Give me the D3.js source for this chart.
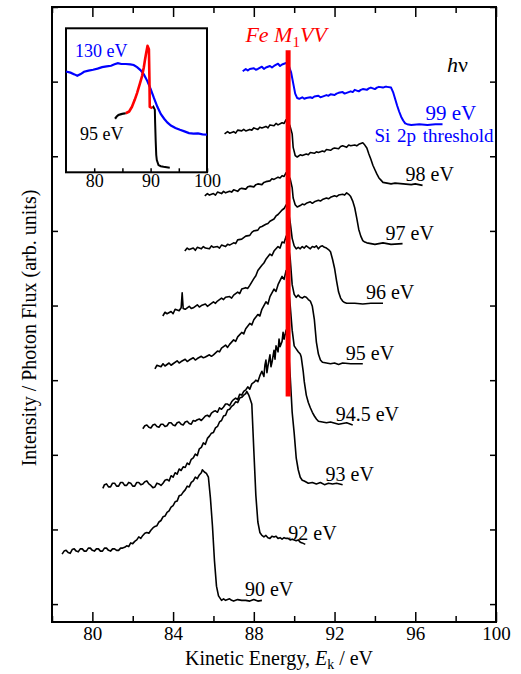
<!DOCTYPE html>
<html>
<head>
<meta charset="utf-8">
<script src="https://cdn.jsdelivr.net/npm/d3@7"></script>
<style>
  body { margin: 0; background: #fff; }
  text { font-family: "Liberation Serif", "Times New Roman", serif; }
</style>
</head>
<body>
<script>
// kinetic energy (eV), intensity (arb. units, one tick = 1)
const curve99 = [[87.45,7.14],[87.6,7.17],[87.7,7.15],[87.8,7.17],[88.0,7.18],[88.1,7.16],[88.2,7.17],[88.4,7.20],[88.5,7.17],[88.6,7.19],[88.8,7.21],[88.9,7.19],[89.0,7.21],[89.2,7.24],[89.3,7.21],[89.4,7.23],[89.6,7.25],[89.75,7.20],[89.85,7.12],[89.95,6.98],[90.05,6.84],[90.15,6.78],[90.25,6.77],[90.4,6.79],[90.5,6.77],[90.6,6.78],[90.8,6.79],[90.9,6.78],[91.0,6.80],[91.2,6.81],[91.3,6.79],[91.4,6.80],[91.6,6.82],[91.7,6.81],[91.8,6.83],[92.0,6.82],[92.1,6.84],[92.2,6.85],[92.4,6.86],[92.5,6.84],[92.6,6.85],[92.8,6.87],[92.9,6.86],[93.0,6.89],[93.2,6.87],[93.3,6.89],[93.4,6.90],[93.6,6.89],[93.7,6.91],[93.8,6.92],[94.0,6.90],[94.1,6.92],[94.2,6.93],[94.4,6.92],[94.5,6.93],[94.6,6.93],[94.8,6.92],[94.9,6.86],[95.0,6.77],[95.1,6.68],[95.2,6.60],[95.3,6.53],[95.4,6.48],[95.5,6.44],[95.6,6.43],[95.8,6.42],[96.2,6.43],[96.6,6.42],[97.0,6.43],[97.35,6.43]];
const curve98 = [[86.55,6.30],[86.7,6.33],[86.8,6.31],[87.0,6.33],[87.1,6.31],[87.2,6.35],[87.4,6.34],[87.5,6.36],[87.6,6.34],[87.8,6.36],[87.9,6.35],[88.0,6.38],[88.2,6.36],[88.3,6.39],[88.4,6.38],[88.6,6.40],[88.7,6.38],[88.8,6.42],[89.0,6.41],[89.1,6.44],[89.2,6.42],[89.4,6.45],[89.5,6.44],[89.6,6.49],[89.7,6.46],[89.8,6.40],[89.9,6.30],[89.95,6.12],[90.05,6.01],[90.15,5.99],[90.3,6.02],[90.4,6.01],[90.6,6.03],[90.7,6.02],[90.8,6.05],[91.0,6.04],[91.1,6.06],[91.2,6.05],[91.4,6.07],[91.5,6.06],[91.6,6.09],[91.8,6.08],[91.9,6.10],[92.0,6.11],[92.2,6.10],[92.3,6.13],[92.4,6.14],[92.6,6.12],[92.7,6.15],[92.8,6.14],[93.0,6.15],[93.1,6.14],[93.2,6.16],[93.4,6.18],[93.5,6.15],[93.6,6.11],[93.7,6.03],[93.8,5.96],[93.9,5.88],[94.0,5.82],[94.1,5.76],[94.2,5.71],[94.3,5.68],[94.4,5.65],[94.6,5.64],[94.8,5.63],[95.0,5.64],[95.4,5.63],[95.8,5.62],[96.0,5.63],[96.36,5.61]];
const curve97 = [[85.57,5.47],[85.7,5.50],[85.8,5.48],[86.0,5.50],[86.1,5.48],[86.2,5.52],[86.4,5.50],[86.5,5.53],[86.6,5.51],[86.8,5.53],[86.9,5.52],[87.0,5.55],[87.2,5.53],[87.3,5.56],[87.4,5.57],[87.6,5.56],[87.7,5.59],[87.8,5.60],[88.0,5.59],[88.1,5.62],[88.2,5.63],[88.4,5.62],[88.5,5.65],[88.6,5.66],[88.8,5.67],[88.9,5.70],[89.0,5.69],[89.2,5.72],[89.3,5.71],[89.4,5.74],[89.5,5.73],[89.6,5.78],[89.7,5.74],[89.8,5.70],[89.9,5.58],[89.95,5.44],[90.05,5.35],[90.15,5.32],[90.3,5.34],[90.4,5.36],[90.5,5.35],[90.6,5.37],[90.8,5.39],[90.9,5.37],[91.0,5.39],[91.2,5.41],[91.3,5.40],[91.4,5.42],[91.6,5.44],[91.7,5.43],[91.8,5.45],[92.0,5.47],[92.1,5.46],[92.2,5.48],[92.4,5.49],[92.5,5.48],[92.6,5.51],[92.7,5.49],[92.8,5.46],[92.9,5.40],[93.0,5.31],[93.1,5.17],[93.2,5.02],[93.3,4.93],[93.4,4.87],[93.5,4.85],[93.6,4.84],[94.0,4.82],[94.4,4.84],[94.8,4.82],[95.37,4.83]];
const curve96 = [[84.58,4.73],[84.7,4.77],[84.8,4.75],[85.0,4.77],[85.1,4.74],[85.2,4.78],[85.4,4.76],[85.5,4.79],[85.6,4.77],[85.8,4.76],[85.9,4.80],[86.0,4.78],[86.2,4.79],[86.3,4.77],[86.4,4.81],[86.6,4.79],[86.7,4.82],[86.8,4.81],[87.0,4.84],[87.1,4.83],[87.2,4.88],[87.4,4.89],[87.5,4.91],[87.6,4.93],[87.8,4.94],[87.9,4.98],[88.0,5.00],[88.2,5.01],[88.3,5.05],[88.4,5.06],[88.6,5.09],[88.7,5.10],[88.8,5.13],[89.0,5.16],[89.1,5.20],[89.2,5.22],[89.4,5.28],[89.5,5.30],[89.6,5.35],[89.7,5.28],[89.8,5.12],[89.9,4.90],[90.0,4.80],[90.1,4.76],[90.2,4.78],[90.3,4.76],[90.4,4.79],[90.5,4.77],[90.6,4.80],[90.7,4.78],[90.8,4.76],[90.9,4.79],[91.0,4.78],[91.1,4.80],[91.2,4.76],[91.3,4.79],[91.4,4.80],[91.5,4.78],[91.6,4.77],[91.7,4.75],[91.8,4.72],[91.9,4.62],[92.0,4.50],[92.1,4.33],[92.2,4.18],[92.3,4.10],[92.4,4.06],[92.5,4.04],[92.6,4.03],[93.0,4.03],[93.4,4.02],[93.8,4.03],[94.4,4.03]];
const curve95 = [[83.49,3.86],[83.6,3.91],[83.7,3.89],[83.9,3.92],[84.0,3.89],[84.1,3.95],[84.3,3.93],[84.4,3.97],[84.45,4.17],[84.5,3.96],[84.6,3.95],[84.8,3.99],[84.9,3.96],[85.0,3.97],[85.2,4.01],[85.3,3.98],[85.4,4.00],[85.6,4.02],[85.7,3.99],[85.8,4.01],[86.0,4.05],[86.1,4.03],[86.2,4.06],[86.4,4.10],[86.5,4.08],[86.6,4.11],[86.8,4.12],[86.9,4.10],[87.0,4.14],[87.2,4.18],[87.3,4.16],[87.4,4.22],[87.6,4.24],[87.7,4.23],[87.8,4.27],[88.0,4.36],[88.1,4.40],[88.2,4.47],[88.4,4.54],[88.5,4.57],[88.6,4.62],[88.8,4.69],[88.9,4.67],[89.0,4.73],[89.2,4.79],[89.3,4.77],[89.4,4.85],[89.5,4.84],[89.6,4.93],[89.7,4.81],[89.8,4.64],[89.9,4.28],[90.0,4.15],[90.1,4.11],[90.2,4.14],[90.3,4.11],[90.4,4.10],[90.5,4.12],[90.6,4.11],[90.7,4.08],[90.8,4.06],[90.9,3.99],[91.0,3.81],[91.1,3.51],[91.2,3.35],[91.3,3.27],[91.4,3.24],[91.6,3.23],[91.8,3.22],[92.0,3.23],[92.2,3.21],[92.4,3.23],[92.8,3.22],[93.4,3.22]];
const curve945 = [[83.1,3.15],[83.2,3.20],[83.4,3.18],[83.5,3.22],[83.6,3.19],[83.8,3.23],[83.9,3.20],[84.0,3.22],[84.2,3.26],[84.3,3.23],[84.4,3.25],[84.6,3.28],[84.7,3.25],[84.8,3.27],[85.0,3.30],[85.1,3.27],[85.2,3.29],[85.4,3.32],[85.5,3.30],[85.6,3.31],[85.8,3.34],[85.9,3.32],[86.0,3.34],[86.2,3.39],[86.3,3.38],[86.4,3.43],[86.6,3.47],[86.7,3.44],[86.8,3.48],[87.0,3.54],[87.1,3.52],[87.2,3.58],[87.4,3.64],[87.5,3.62],[87.6,3.69],[87.8,3.76],[87.9,3.74],[88.0,3.81],[88.2,3.88],[88.3,3.86],[88.4,3.95],[88.6,4.05],[88.7,4.02],[88.8,4.12],[89.0,4.22],[89.1,4.19],[89.2,4.28],[89.4,4.39],[89.5,4.35],[89.6,4.47],[89.7,4.28],[89.8,4.01],[89.9,3.67],[90.0,3.46],[90.1,3.42],[90.2,3.38],[90.3,3.35],[90.35,3.31],[90.45,3.11],[90.5,2.98],[90.6,2.80],[90.7,2.70],[90.8,2.63],[90.9,2.57],[91.0,2.52],[91.1,2.48],[91.2,2.45],[91.4,2.44],[91.6,2.43],[91.8,2.44],[92.2,2.41],[92.6,2.43],[92.9,2.40]];
const curve93 = [[82.5,2.35],[82.6,2.39],[82.7,2.40],[82.8,2.37],[82.9,2.36],[83.0,2.40],[83.1,2.41],[83.2,2.38],[83.3,2.37],[83.4,2.41],[83.5,2.41],[83.6,2.38],[83.7,2.39],[83.8,2.43],[83.9,2.43],[84.0,2.40],[84.1,2.39],[84.2,2.43],[84.3,2.44],[84.4,2.41],[84.5,2.40],[84.6,2.44],[84.7,2.45],[84.8,2.42],[84.9,2.41],[85.0,2.46],[85.1,2.45],[85.2,2.47],[85.3,2.48],[85.4,2.46],[85.5,2.49],[85.6,2.52],[85.7,2.53],[85.8,2.51],[85.9,2.56],[86.0,2.58],[86.1,2.59],[86.2,2.57],[86.3,2.63],[86.4,2.61],[86.5,2.64],[86.6,2.68],[86.7,2.68],[86.8,2.66],[86.9,2.71],[87.0,2.74],[87.1,2.76],[87.2,2.74],[87.3,2.81],[87.4,2.80],[87.5,2.85],[87.6,2.87],[87.7,2.91],[87.8,2.88],[87.9,2.95],[88.0,2.97],[88.1,3.00],[88.2,2.98],[88.3,3.06],[88.4,3.12],[88.5,3.05],[88.55,3.20],[88.6,3.27],[88.65,3.10],[88.7,3.19],[88.8,3.34],[88.85,3.18],[88.9,3.24],[89.0,3.40],[89.05,3.28],[89.1,3.46],[89.2,3.38],[89.25,3.55],[89.3,3.45],[89.4,3.52],[89.45,3.64],[89.5,3.55],[89.6,3.67],[89.7,3.47],[89.8,3.07],[89.9,2.57],[90.0,2.29],[90.1,1.96],[90.2,1.80],[90.3,1.70],[90.4,1.66],[90.5,1.65],[90.7,1.62],[90.9,1.63],[91.1,1.61],[91.3,1.63],[91.5,1.60],[91.7,1.62],[91.9,1.61],[92.1,1.62],[92.4,1.60]];
const curve92 = [[80.52,1.55],[80.6,1.60],[80.7,1.61],[80.8,1.57],[80.9,1.57],[81.0,1.62],[81.1,1.62],[81.2,1.58],[81.3,1.58],[81.4,1.63],[81.5,1.63],[81.6,1.59],[81.7,1.59],[81.8,1.63],[81.9,1.62],[82.0,1.58],[82.1,1.58],[82.2,1.63],[82.3,1.63],[82.4,1.60],[82.5,1.61],[82.6,1.64],[82.7,1.65],[82.8,1.61],[82.9,1.59],[83.0,1.56],[83.1,1.57],[83.2,1.62],[83.3,1.61],[83.4,1.59],[83.5,1.62],[83.6,1.66],[83.7,1.67],[83.8,1.65],[83.9,1.72],[84.0,1.70],[84.1,1.76],[84.2,1.74],[84.3,1.81],[84.4,1.79],[84.5,1.84],[84.6,1.83],[84.7,1.89],[84.8,1.87],[84.9,1.94],[85.0,1.96],[85.1,2.01],[85.2,1.99],[85.3,2.08],[85.4,2.10],[85.5,2.16],[85.6,2.14],[85.7,2.22],[85.8,2.25],[85.9,2.29],[86.0,2.30],[86.1,2.36],[86.2,2.38],[86.3,2.44],[86.4,2.46],[86.5,2.52],[86.6,2.53],[86.7,2.60],[86.8,2.61],[86.9,2.65],[87.0,2.67],[87.1,2.71],[87.2,2.70],[87.3,2.76],[87.4,2.77],[87.5,2.80],[87.6,2.82],[87.65,2.85],[87.75,2.80],[87.85,2.72],[87.9,2.68],[88.0,2.06],[88.1,1.46],[88.2,1.10],[88.3,0.96],[88.4,0.92],[88.5,0.90],[88.6,0.92],[88.7,0.89],[88.8,0.88],[88.9,0.91],[89.0,0.90],[89.1,0.91],[89.2,0.88],[89.3,0.89],[89.4,0.87],[89.5,0.89],[89.6,0.88],[89.7,0.88],[89.8,0.86],[89.9,0.87],[90.0,0.86],[90.1,0.85],[90.2,0.86],[90.3,0.83],[90.4,0.82],[90.55,0.80]];
const curve90 = [[78.5,0.67],[78.6,0.71],[78.7,0.72],[78.8,0.69],[78.9,0.68],[79.0,0.73],[79.1,0.74],[79.2,0.71],[79.3,0.70],[79.4,0.74],[79.5,0.74],[79.6,0.71],[79.7,0.71],[79.8,0.75],[79.9,0.75],[80.0,0.72],[80.1,0.71],[80.2,0.74],[80.3,0.74],[80.4,0.71],[80.5,0.71],[80.6,0.75],[80.7,0.75],[80.8,0.72],[80.9,0.71],[81.0,0.74],[81.1,0.74],[81.2,0.72],[81.3,0.72],[81.4,0.75],[81.5,0.75],[81.6,0.76],[81.7,0.78],[81.8,0.77],[81.9,0.82],[82.0,0.81],[82.1,0.84],[82.2,0.86],[82.3,0.90],[82.4,0.88],[82.5,0.92],[82.6,0.95],[82.7,0.96],[82.8,0.95],[82.9,0.99],[83.0,1.02],[83.1,1.04],[83.2,1.05],[83.3,1.10],[83.4,1.12],[83.5,1.17],[83.6,1.18],[83.7,1.23],[83.8,1.25],[83.9,1.30],[84.0,1.32],[84.1,1.37],[84.2,1.38],[84.3,1.45],[84.4,1.46],[84.5,1.50],[84.6,1.53],[84.7,1.58],[84.8,1.57],[84.9,1.63],[85.0,1.65],[85.1,1.70],[85.2,1.68],[85.3,1.73],[85.4,1.76],[85.45,1.80],[85.55,1.77],[85.65,1.75],[85.75,1.70],[85.85,1.42],[85.95,1.05],[86.05,0.58],[86.15,0.24],[86.25,0.11],[86.4,0.05],[86.5,0.07],[86.6,0.05],[86.7,0.06],[86.8,0.07],[86.9,0.05],[87.0,0.04],[87.2,0.06],[87.4,0.05],[87.6,0.05],[87.8,0.04],[88.0,0.06],[88.2,0.04],[88.4,0.05]];

const photonLabels = ["99 eV", "98 eV", "97 eV", "96 eV", "95 eV", "94.5 eV", "93 eV", "92 eV", "90 eV"];
const curves = [curve99, curve98, curve97, curve96, curve95, curve945, curve93, curve92, curve90];

// Fe M1VV position and the span of the marker
const feEnergy = 89.7;
const feSpan = [2.78, 7.42];

// inset: 130 eV and 95 eV spectra
const inset130 = [[75.0,7.00],[75.8,6.92],[76.5,6.80],[77.0,6.70],[77.6,6.82],[78.2,6.98],[79.0,7.06],[79.8,7.12],[80.6,7.20],[81.4,7.30],[82.2,7.36],[83.0,7.40],[83.6,7.50],[84.2,7.58],[84.8,7.52],[85.6,7.52],[86.4,7.50],[87.0,7.45],[87.6,7.30],[88.2,7.10],[88.8,6.80],[89.4,6.35],[90.0,5.80],[90.6,5.15],[91.2,4.55],[91.8,4.05],[92.4,3.72],[93.0,3.45],[93.6,3.25],[94.4,3.08],[95.2,2.95],[96.0,2.84],[96.8,2.72],[97.6,2.68],[98.4,2.70],[99.2,2.63],[100.0,2.62]];
const inset95a = [[83.7,3.72],[84.0,3.88],[84.3,3.98],[84.8,4.04],[85.2,4.08],[85.6,4.10]];
const inset95peak = [[85.6,4.10],[86.2,4.22],[86.7,4.55],[87.2,5.05],[87.6,5.50],[88.1,6.15],[88.5,6.70],[88.8,7.30],[89.0,7.80],[89.2,8.25],[89.45,8.78],[89.7,8.55],[89.8,6.30],[89.85,4.55],[90.3,4.45]];
const inset95b = [[90.3,4.45],[90.5,4.55],[90.75,4.35],[90.8,3.50],[90.9,2.20],[91.0,1.20],[91.1,0.85],[91.4,0.50],[91.8,0.42],[92.3,0.38],[93.4,0.32]];

const xMajor = [80, 84, 88, 92, 96, 100];
const xMinor = [78, 82, 86, 90, 94, 98];
const yTicks = [0, 1, 2, 3, 4, 5, 6, 7, 8];
const insetTicks = [80, 85, 90, 95, 100];

const svg = d3.select("body")
    .append("svg")
    .attr("width", 521)
    .attr("height", 674);

const x = d3.scaleLinear().domain([78, 100]).range([52, 496]);
const y = d3.scaleLinear().domain([-0.24, 8]).range([622, 7]);
const line = d3.line().x(d => x(d[0])).y(d => y(d[1]));

const font = "'Liberation Serif', 'Times New Roman', serif";

function styleAxis(g, size) {
    g.select(".domain").remove();
    g.selectAll("line").attr("stroke-width", 1.5);
    g.attr("font-family", font).attr("font-size", size);
    g.selectAll("text").attr("fill", "#000");
}

svg.append("g").attr("transform", "translate(0,622)")
    .call(d3.axisBottom(x).tickValues(xMajor).tickSize(-10).tickPadding(5))
    .call(g => styleAxis(g, 19));
svg.append("g").attr("transform", "translate(0,622)")
    .call(d3.axisBottom(x).tickValues(xMinor).tickSize(-6).tickFormat(""))
    .call(g => styleAxis(g, 19));
svg.append("g").attr("transform", "translate(0,7)")
    .call(d3.axisTop(x).tickValues(xMajor).tickSize(-10).tickFormat(""))
    .call(g => styleAxis(g, 19));
svg.append("g").attr("transform", "translate(0,7)")
    .call(d3.axisTop(x).tickValues(xMinor).tickSize(-6).tickFormat(""))
    .call(g => styleAxis(g, 19));
svg.append("g").attr("transform", "translate(52,0)")
    .call(d3.axisLeft(y).tickValues(yTicks).tickSize(-6).tickFormat(""))
    .call(g => styleAxis(g, 19));
svg.append("g").attr("transform", "translate(496,0)")
    .call(d3.axisRight(y).tickValues(yTicks).tickSize(-6).tickFormat(""))
    .call(g => styleAxis(g, 19));

svg.append("rect")
    .attr("x", x(78)).attr("y", y(8))
    .attr("width", x(100) - x(78)).attr("height", y(-0.24) - y(8))
    .attr("fill", "none").attr("stroke", "#000").attr("stroke-width", 2);

// spectra
svg.selectAll(".spec")
    .data(curves)
    .enter()
    .append("path")
    .attr("class", "spec")
    .attr("d", line)
    .attr("fill", "none")
    .attr("stroke", (d, i) => i === 0 ? "#0000ff" : "#000")
    .attr("stroke-width", (d, i) => i === 0 ? 2 : 1.6)
    .attr("stroke-linejoin", "round");

svg.append("line")
    .attr("x1", x(feEnergy)).attr("x2", x(feEnergy))
    .attr("y1", y(feSpan[0])).attr("y2", y(feSpan[1]))
    .attr("stroke", "#ff0000").attr("stroke-width", 5);

svg.selectAll(".hv")
    .data(curves)
    .enter()
    .append("text")
    .attr("class", "hv")
    .attr("x", d => x(d[d.length - 1][0]) - 17)
    .attr("y", d => y(d[d.length - 1][1]) - 4)
    .attr("font-size", (d, i) => i === 0 ? 21 : 20)
    .attr("fill", (d, i) => i === 0 ? "#0000ff" : "#000")
    .text((d, i) => photonLabels[i]);

svg.append("text")
    .attr("x", x(curve99[curve99.length - 1][0]) + 51)
    .attr("y", y(curve99[curve99.length - 1][1]) + 18)
    .attr("text-anchor", "end")
    .attr("font-size", 19)
    .attr("word-spacing", 2)
    .attr("fill", "#0000ff")
    .text("Si 2p threshold");

const hv = svg.append("text")
    .attr("x", 447).attr("y", 72)
    .attr("font-size", 22);
hv.append("tspan").attr("font-style", "italic").text("h");
hv.append("tspan").text("ν");

const fe = svg.append("text")
    .attr("x", x(feEnergy) - 2).attr("y", 42)
    .attr("text-anchor", "middle")
    .attr("font-size", 22)
    .attr("fill", "#ff0000");
fe.append("tspan").attr("font-style", "italic").text("Fe M");
fe.append("tspan").attr("font-size", 15).attr("dy", 5).text("1");
fe.append("tspan").attr("font-style", "italic").attr("dy", -5).text("VV");

// axis titles
const xt = svg.append("text")
    .attr("x", 279).attr("y", 665)
    .attr("text-anchor", "middle")
    .attr("font-size", 20);
xt.append("tspan").text("Kinetic Energy, ");
xt.append("tspan").attr("font-style", "italic").text("E");
xt.append("tspan").attr("font-size", 14).attr("dy", 4).text("k");
xt.append("tspan").attr("dy", -4).text(" / eV");

svg.append("text")
    .attr("transform", "translate(36,328) rotate(-90)")
    .attr("text-anchor", "middle")
    .attr("font-size", 20)
    .text("Intensity / Photon Flux (arb. units)");

// inset
const ix = d3.scaleLinear().domain([75, 100]).range([66, 207]);
const iy = d3.scaleLinear().domain([0, 10]).range([172.3, 28.3]);
const iline = d3.line().x(d => ix(d[0])).y(d => iy(d[1]));
const inset = svg.append("g");

inset.append("g").attr("transform", "translate(0,172.3)")
    .call(d3.axisBottom(ix).tickValues(insetTicks).tickSize(-4).tickPadding(2)
        .tickFormat(d => d % 10 === 0 ? d : ""))
    .call(g => styleAxis(g, 18));

inset.append("rect")
    .attr("x", ix(75)).attr("y", iy(10))
    .attr("width", ix(100) - ix(75)).attr("height", iy(0) - iy(10))
    .attr("fill", "none").attr("stroke", "#000").attr("stroke-width", 2);

inset.append("path").attr("d", iline(inset130))
    .attr("fill", "none").attr("stroke", "#0000ff").attr("stroke-width", 2.2);
inset.append("path").attr("d", iline(inset95a))
    .attr("fill", "none").attr("stroke", "#000").attr("stroke-width", 2.2);
inset.append("path").attr("d", iline(inset95b))
    .attr("fill", "none").attr("stroke", "#000").attr("stroke-width", 2);
inset.append("path").attr("d", iline(inset95peak))
    .attr("fill", "none").attr("stroke", "#ff0000").attr("stroke-width", 2.6)
    .attr("stroke-linejoin", "round");

inset.append("text").attr("x", 75).attr("y", 57)
    .attr("font-size", 18).attr("fill", "#0000ff").text("130 eV");
inset.append("text").attr("x", 80).attr("y", 140)
    .attr("font-size", 18).text("95 eV");
</script>
</body>
</html>
